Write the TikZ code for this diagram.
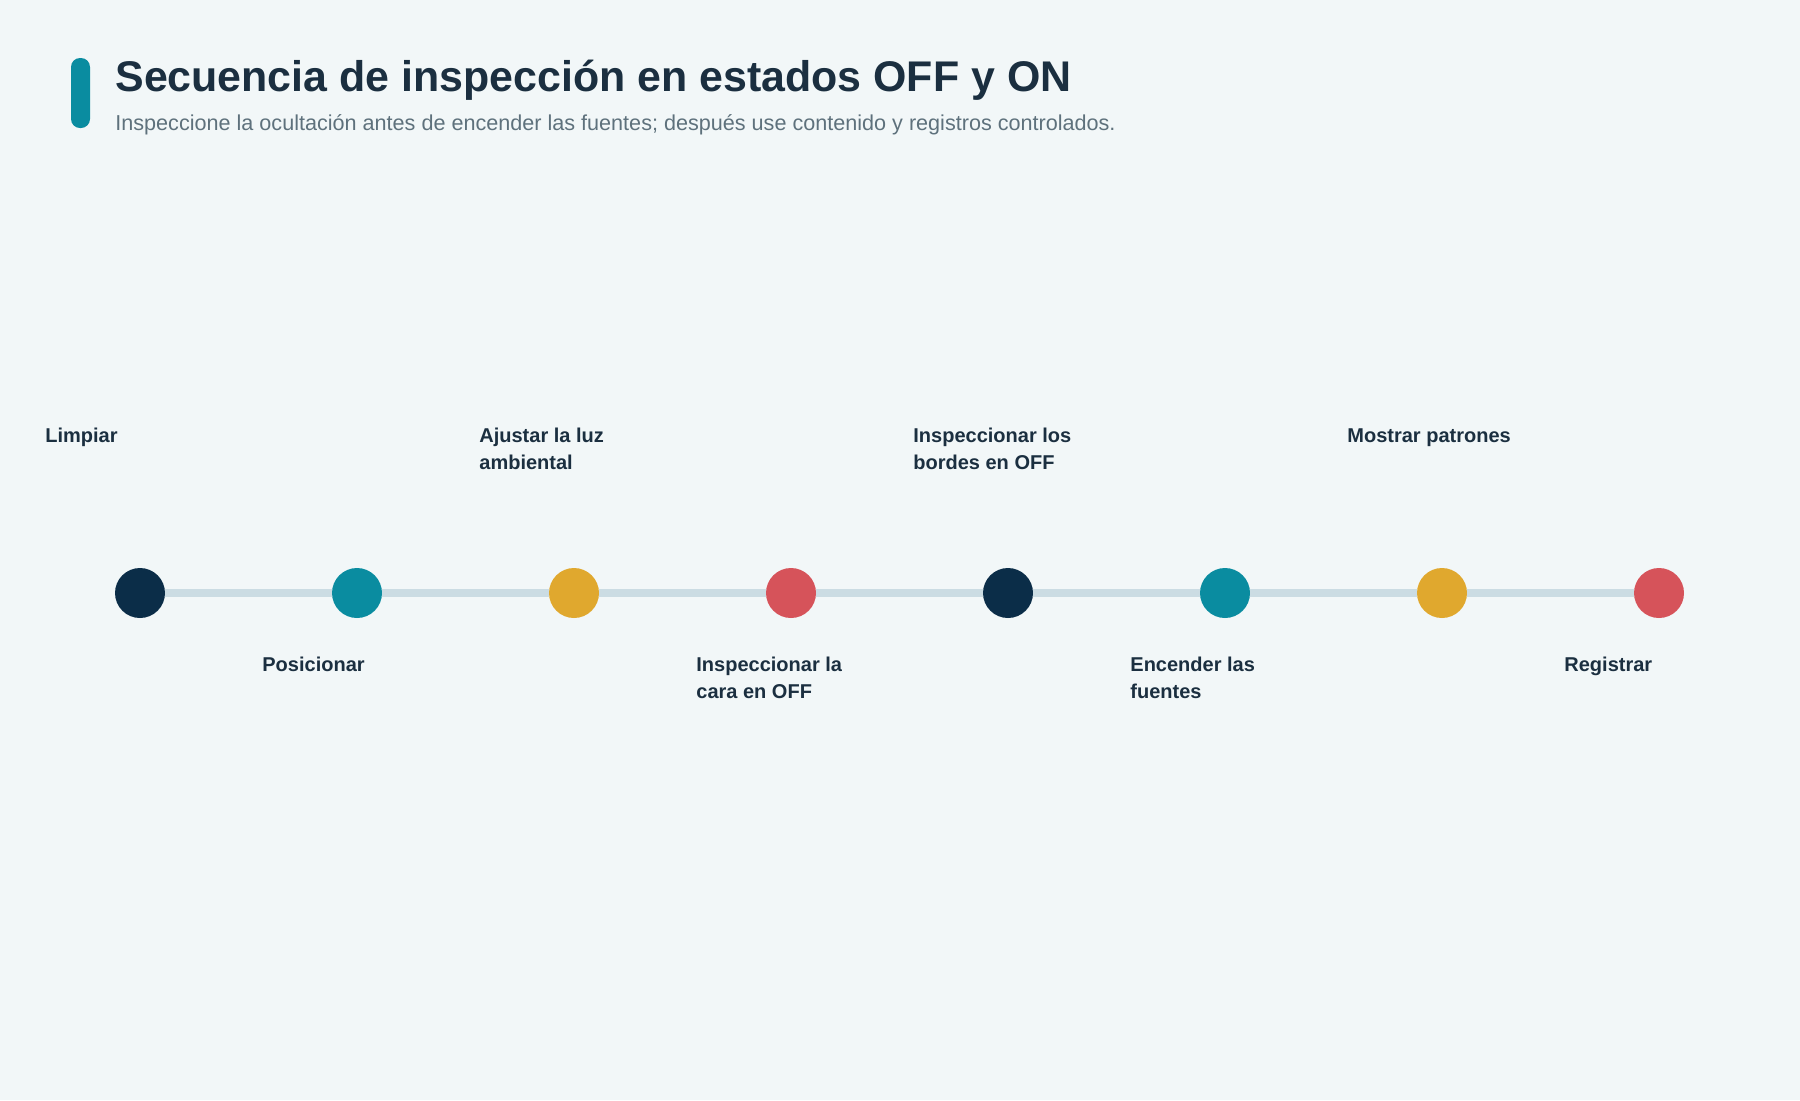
\documentclass[tikz,border=0pt]{standalone}
\usepackage{fontspec}
\setmainfont{Liberation Sans}
\definecolor{bg}{HTML}{F2F7F8}
\definecolor{ink}{HTML}{1B2F40}
\definecolor{sub}{HTML}{5E717C}
\definecolor{track}{HTML}{CBDCE3}
\definecolor{cnavy}{HTML}{0B2D48}
\definecolor{cteal}{HTML}{0A8CA0}
\definecolor{cgold}{HTML}{E0A82E}
\definecolor{cred}{HTML}{D6535A}
\tikzset{
  dot/.style={circle, minimum size=25pt, inner sep=0pt, draw=none},
  lbl/.style={inner sep=0pt, align=left, text=ink, font=\fontsize{10}{13.5}\selectfont\bfseries},
  trackline/.style={draw=track, line width=4pt},
}
\begin{document}
\begin{tikzpicture}[x=0.5pt,y=-0.5pt]
\useasboundingbox[fill=bg] (0,0) rectangle (1800,1100);
\fill[cteal, rounded corners=4.5pt] (71,58) rectangle (90,128);
\node[anchor=base west, inner sep=0pt, text=ink, font=\fontsize{21.45}{25}\selectfont\bfseries] (title) at (115,91) {Secuencia de inspección en estados OFF y ON};
\node[anchor=base west, inner sep=0pt, text=sub, font=\fontsize{10.8}{13}\selectfont] (subtitle) at (115,130) {Inspeccione la ocultación antes de encender las fuentes; después use contenido y registros controlados.};
\node[dot, fill=cnavy] (c1) at (140,593) {};
\node[dot, fill=cteal] (c2) at (357,593) {};
\node[dot, fill=cgold] (c3) at (574,593) {};
\node[dot, fill=cred]  (c4) at (791,593) {};
\node[dot, fill=cnavy] (c5) at (1008,593) {};
\node[dot, fill=cteal] (c6) at (1225,593) {};
\node[dot, fill=cgold] (c7) at (1442,593) {};
\node[dot, fill=cred]  (c8) at (1659,593) {};
\foreach \a/\b in {c1/c2,c2/c3,c3/c4,c4/c5,c5/c6,c6/c7,c7/c8}
  \draw[trackline] (\a.east) -- (\b.west);
\node[lbl, anchor=north west] (l1) at (45,428) {Limpiar};
\node[lbl, anchor=north west] (l2) at (262,657) {Posicionar};
\node[lbl, anchor=north west] (l3) at (479,428) {Ajustar la luz\\ambiental};
\node[lbl, anchor=north west] (l4) at (696,657) {Inspeccionar la\\cara en OFF};
\node[lbl, anchor=north west] (l5) at (913,428) {Inspeccionar los\\bordes en OFF};
\node[lbl, anchor=north west] (l6) at (1130,657) {Encender las\\fuentes};
\node[lbl, anchor=north west] (l7) at (1347,428) {Mostrar patrones};
\node[lbl, anchor=north west] (l8) at (1564,657) {Registrar};
\end{tikzpicture}
\end{document}
